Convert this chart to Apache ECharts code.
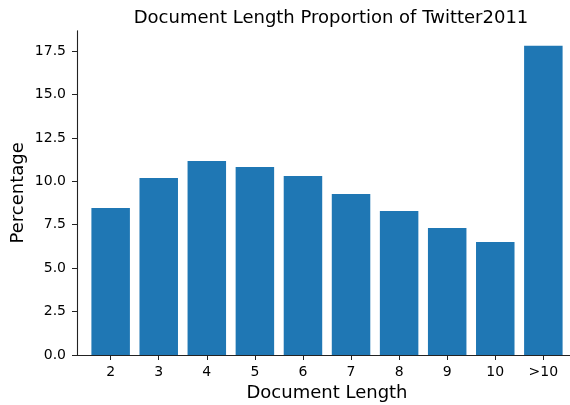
<!DOCTYPE html>
<html><head><meta charset="utf-8">
<script src="https://cdn.jsdelivr.net/npm/echarts@6/dist/echarts.min.js"></script>
<style>html,body{margin:0;padding:0;background:#fff}#c{width:570px;height:405px}</style>
</head><body><div id="c"></div>
<script>
const categories = ['2','3','4','5','6','7','8','9','10','>10'];
const percentages = [8.46, 10.19, 11.17, 10.82, 10.30, 9.27, 8.29, 7.31, 6.51, 17.81];
const yTicks = [0, 2.5, 5, 7.5, 10, 12.5, 15, 17.5];
const xTicks = categories.map((_, i) => i);

const chart = echarts.init(document.getElementById('c'), null, {renderer: 'canvas'});
const font = 'DejaVu Sans';
chart.setOption({
  animation: false,
  title: {
    text: 'Document Length Proportion of Twitter2011',
    left: 326, top: 4, textAlign: 'center',
    textStyle: {fontFamily: font, fontSize: 18, fontWeight: 'normal', color: '#000'}
  },
  grid: {left: 77, top: 30.7, width: 500, bottom: 50, outerBoundsMode: 'none', containLabel: false},
  xAxis: {
    type: 'value', min: -0.7, max: 9.7,
    name: 'Document Length', nameLocation: 'middle', nameGap: 29, nameMoveOverlap: false,
    nameTextStyle: {fontFamily: font, fontSize: 18, color: '#000'},
    splitLine: {show: false},
    axisLine: {show: true, onZero: false, lineStyle: {color: '#222', width: 1.1}},
    axisTick: {show: true, length: 5, customValues: xTicks, lineStyle: {color: '#222'}},
    axisLabel: {customValues: xTicks, formatter: v => categories[v] ?? '', margin: 10,
      fontFamily: font, fontSize: 14, color: '#000'}
  },
  yAxis: {
    type: 'value', min: 0, max: 18.67,
    name: 'Percentage', nameLocation: 'middle', nameGap: 50, nameMoveOverlap: false,
    nameTextStyle: {fontFamily: font, fontSize: 18, color: '#000'},
    splitLine: {show: false},
    axisLine: {show: true, onZero: false, lineStyle: {color: '#222', width: 1.1}},
    axisTick: {show: true, length: 5, customValues: yTicks, lineStyle: {color: '#222'}},
    axisLabel: {customValues: yTicks, formatter: v => v.toFixed(1), margin: 11,
      fontFamily: font, fontSize: 14, color: '#000'}
  },
  series: [{
    type: 'bar',
    data: percentages.map((v, i) => [i, v]),
    barWidth: 38.5,
    itemStyle: {color: '#1f77b4'}
  }]
});
</script></body></html>
